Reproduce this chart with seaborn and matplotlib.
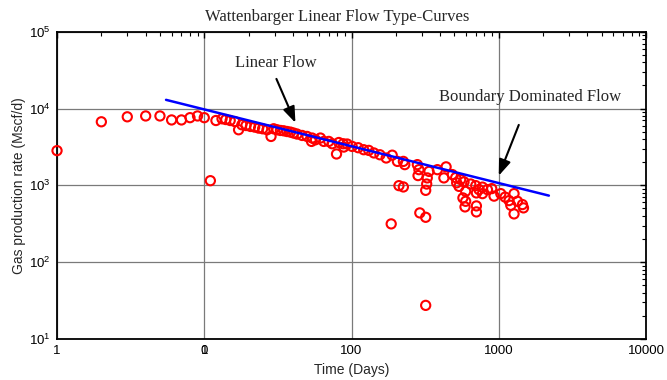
import matplotlib
matplotlib.use("Agg")
import matplotlib.pyplot as plt
import matplotlib.ticker as mticker
import matplotlib.transforms as mtransforms
import seaborn as sns
import pandas as pd

# ---- data ----
time_days = [1, 2, 3, 4, 5, 6, 7, 8, 9, 10, 11, 12,
             13.2, 14.0, 15.0, 16.1, 17.1, 18.0, 19.2, 20.6, 22.0, 23.4, 24.9, 26.7,
             28.4, 29.6, 31.2, 32.9, 34.6, 36.5, 38.5, 40.5, 42.7, 46.2, 49.9, 54.0,
             53.5, 56.9, 61.5, 64.8, 70.1, 73.9, 79.1, 82.0, 87.8, 88.6, 93.5,
             101, 111, 121, 131, 142, 156, 172, 189, 205, 210, 225, 225, 230, 186,
             280, 287, 283, 291, 319, 319, 324, 319, 327, 336, 383, 424, 439, 484,
             510, 518, 551, 537, 571, 581, 596, 596, 590, 645, 698, 705, 705, 705,
             734, 775, 775, 838, 896, 929, 1032, 1104, 1175, 1270, 1207, 1270,
             1340, 1449, 1472]
gas_rate = [2830, 6720, 7800, 8000, 8000, 7100, 7100, 7600, 8000, 7600, 1150, 6980,
            7350, 7190, 6980, 6770, 5290, 6140, 6010, 5840, 5730, 5560, 5450, 5290,
            4330, 5450, 5290, 5180, 5130, 5020, 4930, 4790, 4650, 4460, 4330, 4130,
            3730, 3920, 4130, 3730, 3730, 3480, 2560, 3610, 3480, 3150, 3450,
            3210, 3090, 2910, 2850, 2640, 2500, 2270, 2470, 2050, 991, 953, 2050, 1860, 315,
            1860, 1600, 1340, 438, 384, 27.4, 1040, 861, 1250, 1520, 1600, 1250, 1740, 1380,
            1260, 1080, 1190, 970, 686, 1110, 836, 620, 524, 1040, 991, 797, 540, 451,
            880, 948, 780, 880, 906, 724, 780, 703, 633, 780, 550, 425,
            620, 562, 509]

line_time = [5.5, 2190]
line_rate = [12970, 735]

x_ticks = [1, 10, 100, 1000, 10000]
x_tick_labels = ["1", "0", "100", "1000", "10000"]
y_ticks = [10, 100, 1000, 10000, 100000]
y_tick_labels = ["$10^{1}$", "$10^{2}$", "$10^{3}$", "$10^{4}$", "$10^{5}$"]

title = "Wattenbarger Linear Flow Type-Curves"
x_label = "Time (Days)"
y_label = "Gas production rate (Mscf/d)"

ann1_text = "Linear Flow"
ann1_text_pos = (30.4, 39200)
ann1_tail = (30.9, 24300)
ann1_head = (41.6, 6520)
ann2_text = "Boundary Dominated Flow"
ann2_text_pos = (1638, 14200)
ann2_tail = (1368, 6120)
ann2_head = (1000, 1336)

# ---- styling ----
sns.set_theme(style="white")
plt.rcParams["font.family"] = ["Liberation Sans", "DejaVu Sans"]
plt.rcParams["mathtext.default"] = "regular"

fig = plt.figure(figsize=(6.67, 3.80), dpi=100)
ax = fig.add_axes([0.0855, 0.1079, 0.8830, 0.8087])
ax.set_xscale("log")
ax.set_yscale("log")

df_pts = pd.DataFrame({"t": time_days, "q": gas_rate})
df_line = pd.DataFrame({"t": line_time, "q": line_rate})

sns.scatterplot(data=df_pts, x="t", y="q", ax=ax, marker="o", s=44,
                facecolors="none", edgecolor="red", linewidth=1.5,
                clip_on=False, zorder=3, legend=False)
sns.lineplot(data=df_line, x="t", y="q", ax=ax, color="blue", linewidth=1.8,
             zorder=4, legend=False)

ax.set_xlim(1, 10000)
ax.set_ylim(10, 100000)

ax.set_xticks(x_ticks)
ax.set_xticklabels(x_tick_labels, fontsize=9.5)
ax.set_yticks(y_ticks)
ax.set_yticklabels(y_tick_labels, fontsize=9.5)
ax.xaxis.set_minor_locator(mticker.LogLocator(base=10, subs=range(2, 10), numticks=20))
ax.yaxis.set_minor_locator(mticker.LogLocator(base=10, subs=range(2, 10), numticks=20))
ax.xaxis.set_minor_formatter(mticker.NullFormatter())
ax.yaxis.set_minor_formatter(mticker.NullFormatter())

ax.tick_params(which="both", direction="in", top=True, right=True, colors="black")
ax.tick_params(which="major", length=4, width=1, pad=4.5)
ax.tick_params(which="minor", length=3, width=0.8)

# overlaid "1" on the "0" label at x=10 (as in the reference)
trans = mtransforms.blended_transform_factory(ax.transData, ax.transAxes)
ax.text(10, 0, "1", transform=trans + mtransforms.ScaledTranslation(0, -4.5 / 72, fig.dpi_scale_trans),
        ha="center", va="top", fontsize=9.5, color="black")

ax.grid(True, which="major", color="#7a7a7a", linewidth=0.9)
ax.grid(False, which="minor")
for sp in ax.spines.values():
    sp.set_color("black")
    sp.set_linewidth(1.3)

ax.set_xlabel(x_label, fontsize=10, labelpad=4)
ax.set_ylabel(y_label, fontsize=10, labelpad=2)
fig.text(0.505, 1 - 17 / 380, title, ha="center", va="center", fontsize=12,
         family=["Liberation Serif"])

ax.text(*ann1_text_pos, ann1_text, ha="center", va="center", fontsize=12,
        family=["Liberation Serif"])
ax.annotate("", xy=ann1_head, xytext=ann1_tail,
            arrowprops=dict(arrowstyle="-|>,head_width=0.3,head_length=0.8",
                            color="black", lw=1.5, shrinkA=0, shrinkB=0), zorder=5)
ax.text(*ann2_text_pos, ann2_text, ha="center", va="center", fontsize=12,
        family=["Liberation Serif"])
ax.annotate("", xy=ann2_head, xytext=ann2_tail,
            arrowprops=dict(arrowstyle="-|>,head_width=0.3,head_length=0.8",
                            color="black", lw=1.5, shrinkA=0, shrinkB=0), zorder=5)

fig.savefig("out.png", dpi=100, facecolor="white")
